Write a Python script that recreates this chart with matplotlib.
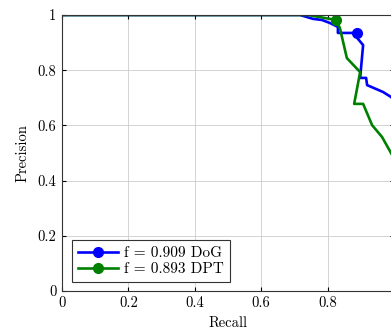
import matplotlib
matplotlib.use("Agg")
import matplotlib.pyplot as plt

plt.rcParams["font.family"] = "serif"
plt.rcParams["font.serif"] = ["cmr10", "DejaVu Serif"]
plt.rcParams["mathtext.fontset"] = "cm"
plt.rcParams["axes.formatter.use_mathtext"] = True

# DoG curve (recall, precision)
dog_recall = [0.0, 0.717, 0.756, 0.783, 0.807, 0.831, 0.831, 0.889, 0.889, 0.907,
              0.898, 0.916, 0.919, 0.967, 0.991, 1.0]
dog_precision = [1.0, 1.0, 0.986, 0.982, 0.971, 0.957, 0.935, 0.935, 0.917, 0.891,
                 0.772, 0.772, 0.746, 0.721, 0.703, 0.69]
dog_best = 7

# DPT curve
dpt_recall = [0.0, 0.741, 0.825, 0.837, 0.858, 0.898, 0.880, 0.907, 0.934, 0.964,
              0.991, 1.0]
dpt_precision = [1.0, 1.0, 0.982, 0.953, 0.844, 0.793, 0.678, 0.678, 0.601, 0.558,
                 0.5, 0.48]
dpt_best = 2

labels = ["f = 0.909 DoG", "f = 0.893 DPT"]
ticks = [0, 0.2, 0.4, 0.6, 0.8, 1]
xtick_labels = ["0", "0.2", "0.4", "0.6", "0.8", ""]  # "1" falls outside the crop
ytick_labels = ["0", "0.2", "0.4", "0.6", "0.8", "1"]

fig = plt.figure(figsize=(3.91, 3.31), dpi=100)
ax = fig.add_axes([62 / 391, 40 / 331, 332 / 391, 276 / 331])

ax.plot(dog_recall, dog_precision, color="#0000ff", lw=1.9, marker="o", ms=7,
        markevery=[dog_best], label=labels[0])
ax.plot(dpt_recall, dpt_precision, color="#008000", lw=1.9, marker="o", ms=7,
        markevery=[dpt_best], label=labels[1])

ax.set_xlim(0, 1)
ax.set_ylim(0, 1)
ax.set_xticks(ticks)
ax.set_xticklabels(xtick_labels)
ax.set_yticks(ticks)
ax.set_yticklabels(ytick_labels)
ax.grid(True, color="#cccccc", lw=0.6)
ax.set_axisbelow(True)
ax.tick_params(direction="in", top=True, right=True, labelsize=10.5, length=3, pad=4)
for s in ax.spines.values():
    s.set_linewidth(0.8)
    s.set_color("#333333")

ax.set_xlabel("Recall", fontsize=10.5, labelpad=4)
ax.set_ylabel("Precision", fontsize=10.5, labelpad=6)

leg = ax.legend(loc="lower left", bbox_to_anchor=(10 / 332, 9 / 276), borderaxespad=0,
                fontsize=11, fancybox=False, edgecolor="#333333", framealpha=1,
                handlelength=2.6, borderpad=0.4, labelspacing=0.15, handletextpad=0.4)
leg.get_frame().set_linewidth(0.8)

fig.savefig("out.png", dpi=100)
